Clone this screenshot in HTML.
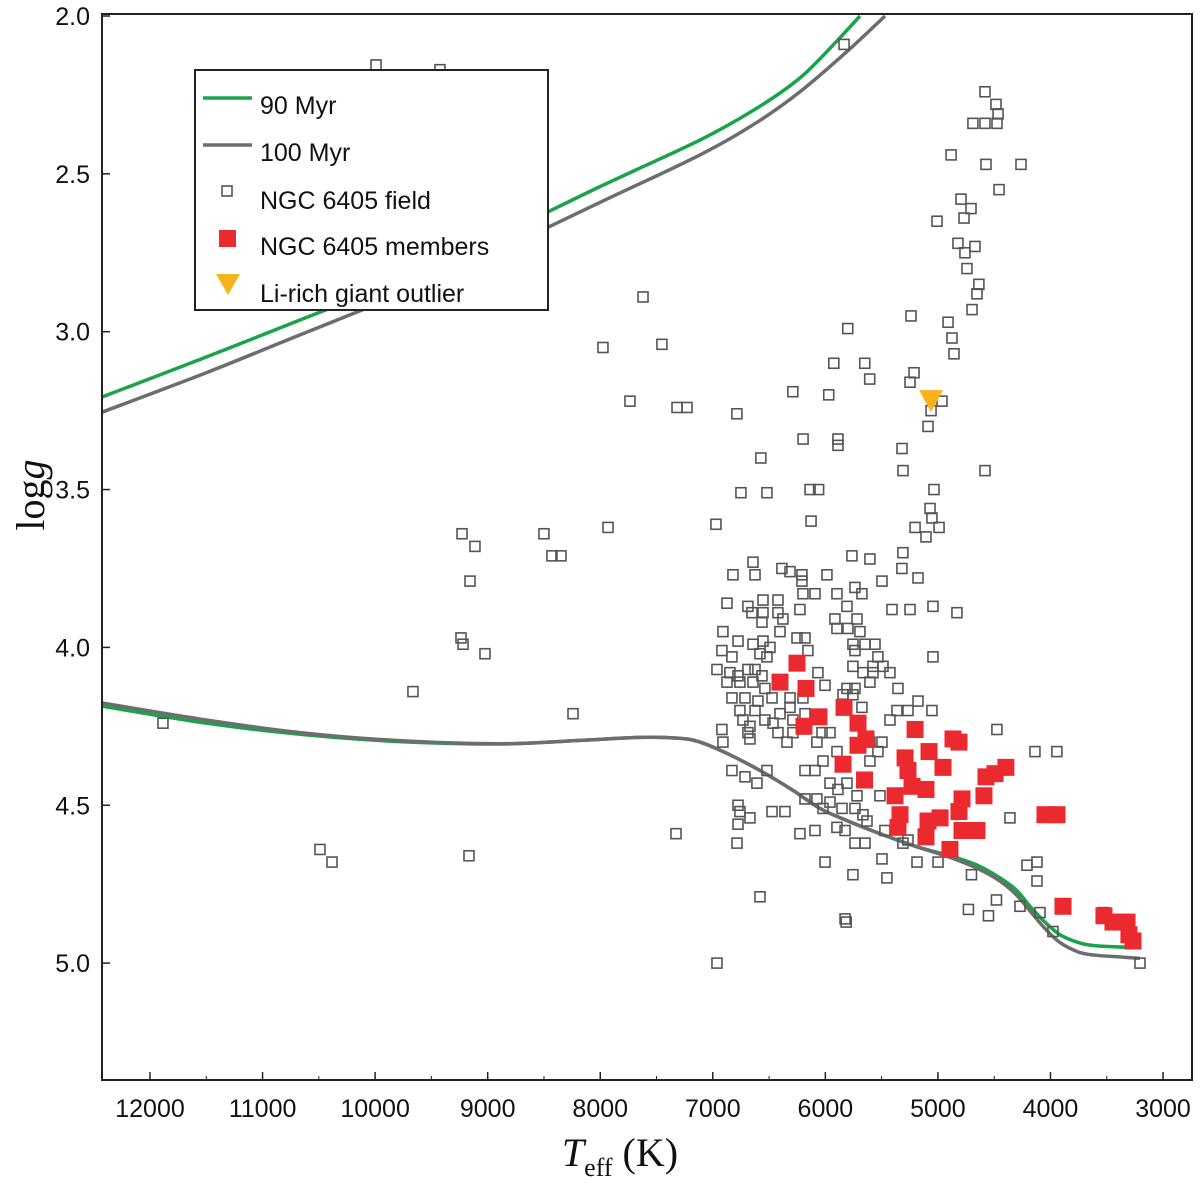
<!DOCTYPE html>
<html><head><meta charset="utf-8"><style>
html,body{margin:0;padding:0;background:#fff}
svg{display:block}
.sans{font-family:"Liberation Sans",sans-serif}
.serif{font-family:"Liberation Serif",serif}
</style></head><body>
<svg id="chart" width="1200" height="1184" viewBox="0 0 1200 1184"></svg>
<script>
const xTicks=[12000,11000,10000,9000,8000,7000,6000,5000,4000,3000];
const yTicks=[2.0,2.5,3.0,3.5,4.0,4.5,5.0];
const legendLabels=["90 Myr","100 Myr","NGC 6405 field","NGC 6405 members","Li-rich giant outlier"];
const iso90Upper=[[12426,3.207],[11500,3.08],[10667,2.963],[9800,2.84],[8891,2.694],[8000,2.54],[7114,2.393],[6600,2.29],[6225,2.196],[5900,2.08],[5692,2.0]];
const iso100Upper=[[12426,3.255],[11500,3.13],[10667,3.01],[9800,2.885],[8891,2.741],[8000,2.59],[7114,2.44],[6600,2.335],[6225,2.24],[5800,2.11],[5470,2.0]];
const iso90Lower=[[12426,4.186],[11500,4.24],[10667,4.275],[9800,4.298],[8891,4.306],[8200,4.295],[7647,4.285],[7300,4.288],[7114,4.30],[6850,4.34],[6581,4.39],[6300,4.45],[6048,4.51],[5800,4.55],[5515,4.59],[5200,4.63],[4893,4.66],[4650,4.69],[4449,4.73],[4300,4.77],[4182,4.82],[4050,4.87],[3915,4.91],[3750,4.935],[3600,4.945],[3293,4.95]];
const iso100Lower=[[12426,4.176],[11500,4.23],[10667,4.27],[9800,4.295],[8891,4.305],[8200,4.295],[7647,4.285],[7300,4.288],[7114,4.30],[6850,4.34],[6581,4.39],[6300,4.45],[6048,4.51],[5800,4.55],[5515,4.59],[5200,4.63],[4893,4.665],[4650,4.70],[4449,4.74],[4300,4.785],[4182,4.835],[4050,4.89],[3915,4.935],[3750,4.965],[3600,4.975],[3400,4.98],[3206,4.985]];
const fieldStars=[[9992,2.155],[9424,2.17],[11885,4.24],[9664,4.14],[10490,4.64],[10383,4.68],[9166,4.66],[9228,3.64],[9113,3.68],[9157,3.79],[9237,3.97],[9219,3.99],[9024,4.02],[8500,3.64],[8429,3.71],[8349,3.71],[8242,4.21],[7976,3.05],[7931,3.62],[7620,2.89],[7736,3.22],[7452,3.04],[7318,3.24],[7229,3.24],[7327,4.59],[6963,5.0],[6972,3.61],[6786,3.26],[6573,3.40],[6519,3.51],[6750,3.51],[6289,3.19],[5801,2.99],[5925,3.10],[5650,3.10],[5606,3.15],[5970,3.20],[5834,2.09],[5239,2.95],[5248,3.16],[5212,3.13],[5061,3.25],[5088,3.30],[4910,2.97],[4883,2.44],[5008,2.65],[4875,3.02],[4857,3.07],[4822,2.72],[4768,2.64],[4795,2.58],[4706,2.61],[4760,2.75],[4742,2.80],[4671,2.73],[4653,2.88],[4697,2.93],[4636,2.85],[4582,2.24],[4689,2.34],[4582,2.34],[4484,2.28],[4466,2.31],[4475,2.34],[4573,2.47],[4262,2.47],[4457,2.55],[4582,3.44],[4964,3.22],[5035,3.50],[5070,3.56],[5053,3.59],[4990,3.62],[5106,3.65],[5203,3.62],[5319,3.37],[5310,3.44],[6127,3.60],[6136,3.50],[6060,3.50],[6198,3.34],[5888,3.36],[5888,3.34],
[6643,3.73],[6821,3.77],[6625,3.77],[6386,3.75],[6314,3.76],[6208,3.77],[6208,3.79],[5986,3.77],[5764,3.71],[5604,3.72],[5311,3.70],[5320,3.75],[5177,3.78],[5497,3.79],[6199,3.83],[6092,3.83],[5897,3.83],[5737,3.81],[5675,3.83],[6874,3.86],[6688,3.87],[6554,3.85],[6421,3.85],[6226,3.88],[5808,3.87],[5408,3.88],[5248,3.88],[5044,3.87],[4831,3.89],[6652,3.89],[6554,3.89],[6421,3.89],[6563,3.92],[6377,3.91],[5915,3.91],[5719,3.91],[5897,3.94],[5799,3.94],[5693,3.95],[6910,3.95],[6403,3.95],[6776,3.98],[6643,3.99],[6554,3.98],[6492,4.00],[6252,3.97],[6181,3.97],[6155,4.01],[5755,3.99],[5648,3.99],[5559,3.99],[5737,4.01],[6919,4.01],[6830,4.03],[6581,4.02],[6519,4.03],[5044,4.03],[5533,4.03],[5577,4.06],[5488,4.06],[5755,4.06],[6963,4.07],[6848,4.08],[6776,4.09],[6688,4.07],[6625,4.07],[6563,4.09],[5426,4.08],[5666,4.08],[5577,4.08],[6066,4.08],[6874,4.11],[6759,4.11],[6643,4.11],[6537,4.13],[6003,4.12],[5808,4.13],[5737,4.13],[5604,4.11],[5355,4.13],[6830,4.16],[6714,4.16],[6599,4.17],[6474,4.16],[6314,4.16],[6199,4.16],[5843,4.15],[5755,4.15],[5675,4.19],[5177,4.17],[5843,4.18],[6759,4.20],[6625,4.20],[6403,4.21],[6314,4.19],[6465,4.24],[6288,4.23],[6181,4.21],[6732,4.23],[6670,4.25],[6537,4.23],[6421,4.27],[6288,4.27],[6919,4.26],[6910,4.30],[6688,4.27],[6670,4.29],[6341,4.30],[6075,4.30],[6030,4.27],[5959,4.27],[5426,4.23],[5364,4.20],[5266,4.20],[5053,4.20],[4476,4.26],[3943,4.33],[4138,4.33],[5497,4.30],[5604,4.30],[5604,4.36],[5533,4.33],[5897,4.33],[6021,4.36],[6830,4.39],[6714,4.41],[6608,4.43],[6519,4.39],[6181,4.39],[6092,4.39],[6181,4.48],[6075,4.48],[5959,4.43],[5888,4.45],[5808,4.43],[5719,4.47],[5959,4.49],[6021,4.51],[5852,4.51],[5737,4.51],[5666,4.53],[6776,4.50],[6759,4.52],[6474,4.52],[6359,4.52],[6670,4.54],[6776,4.56],[6226,4.59],[6092,4.58],[5897,4.57],[5825,4.58],[5630,4.55],[5515,4.47],[5471,4.58],[5311,4.62],[5266,4.61],[5737,4.62],[5648,4.62],[6785,4.62],[4360,4.54],[6003,4.68],[5497,4.67],[5186,4.68],[4999,4.68],[5755,4.72],[5453,4.73],[4702,4.72],[4209,4.69],[4120,4.68],[4120,4.74],[6581,4.79],[5825,4.86],[5815,4.87],[4729,4.83],[4551,4.85],[4480,4.80],[4271,4.82],[4093,4.84],[3978,4.90],[3533,4.84],[3205,5.00]];
const members=[[6403,4.11],[6252,4.05],[6172,4.13],[6190,4.25],[6057,4.22],[5834,4.19],[5710,4.24],[5710,4.31],[5639,4.29],[5843,4.37],[5652,4.42],[5203,4.26],[5079,4.33],[4866,4.29],[4813,4.30],[4955,4.38],[5292,4.35],[5266,4.39],[5381,4.47],[5230,4.44],[5106,4.45],[5337,4.53],[5355,4.57],[5088,4.55],[4981,4.54],[5106,4.60],[4893,4.64],[4786,4.48],[4813,4.52],[4786,4.58],[4653,4.58],[4591,4.47],[4573,4.41],[4493,4.40],[4396,4.38],[4049,4.53],[3942,4.53],[3889,4.82],[3525,4.85],[3445,4.87],[3320,4.87],[3303,4.91],[3267,4.93]];
const outlier=[[5061,3.22]];

const NS="http://www.w3.org/2000/svg";
const svg=document.getElementById('chart');
const L=102,R=1192,T=14,B=1080;
function xS(t){return 150+(12000-t)*0.11256;}
function yS(g){return 16+(g-2)*315.7;}
function mk(tag,attrs,parent){const e=document.createElementNS(NS,tag);for(const k in attrs)e.setAttribute(k,attrs[k]);(parent||svg).appendChild(e);return e;}

const defs=mk('defs',{});
const cp=mk('clipPath',{id:'clip'},defs);
mk('rect',{x:L,y:T,width:R-L,height:B-T},cp);
const plot=mk('g',{'clip-path':'url(#clip)'});



function smoothPath(pts){
  const p=pts.map(d=>[xS(d[0]),yS(d[1])]);
  let s='M'+p[0][0].toFixed(1)+','+p[0][1].toFixed(1);
  for(let i=0;i<p.length-1;i++){
    const p0=p[i-1]||p[i],p1=p[i],p2=p[i+1],p3=p[i+2]||p2;
    const c1=[p1[0]+(p2[0]-p0[0])/6,p1[1]+(p2[1]-p0[1])/6];
    const c2=[p2[0]-(p3[0]-p1[0])/6,p2[1]-(p3[1]-p1[1])/6];
    s+=' C'+c1.map(v=>v.toFixed(1)).join(',')+' '+c2.map(v=>v.toFixed(1)).join(',')+' '+p2[0].toFixed(1)+','+p2[1].toFixed(1);
  }
  return s;
}
function line(pts,color,name){
  const p=mk('path',{d:smoothPath(pts),fill:'none',stroke:color,'stroke-width':3.5,'stroke-linejoin':'round'},plot);
  
  
}
line(iso100Upper,'#6d6d6d','isochrone-100myr-upper');
line(iso90Upper,'#1aa34a','isochrone-90myr-upper');
line(iso90Lower,'#1aa34a','isochrone-90myr-lower');
line(iso100Lower,'#6d6d6d','isochrone-100myr-lower');

fieldStars.forEach(d=>{
  const r=mk('rect',{x:xS(d[0])-5,y:yS(d[1])-5,width:10,height:10,fill:'none',stroke:'#555','stroke-width':1.6},plot);
  
  
});
members.forEach(d=>{
  const r=mk('rect',{x:xS(d[0])-8.5,y:yS(d[1])-8.5,width:17,height:17,fill:'#ea2a2e'},plot);
  
  
});
outlier.forEach(d=>{
  const x=xS(d[0]),y=yS(d[1]);
  const p=mk('polygon',{points:`${x-12},${y-11} ${x+12},${y-11} ${x},${y+11}`,fill:'#f7b21c'},plot);
  
  
});

const frame=mk('rect',{x:L,y:T,width:R-L,height:B-T,fill:'none',stroke:'#222','stroke-width':2});



xTicks.forEach(t=>{
  const x=xS(t);
  mk('line',{x1:x,x2:x,y1:B,y2:B-8,stroke:'#222','stroke-width':1.5});
  const tx=mk('text',{x:x,y:B+37,'text-anchor':'middle','font-size':25,fill:'#111','class':'sans'});
  tx.textContent=t;
  
  
});
for(let t=12000;t>=2800;t-=500){const x=xS(t);if(x>L&&x<R)mk('line',{x1:x,x2:x,y1:B,y2:B-4,stroke:'#222','stroke-width':1});}
yTicks.forEach(g=>{
  const y=yS(g);
  mk('line',{x1:L,x2:L+8,y1:y,y2:y,stroke:'#222','stroke-width':1.5});
  const tx=mk('text',{x:90,y:y+9,'text-anchor':'end','font-size':25,fill:'#111','class':'sans'});
  tx.textContent=g.toFixed(1);
  
  
});

const yt=mk('text',{x:0,y:0,transform:'translate(44,495) rotate(-90)','text-anchor':'middle','font-size':40,fill:'#111','class':'serif'});
yt.innerHTML='log<tspan font-style="italic">g</tspan>';


const xt=mk('text',{x:620,y:1166,'text-anchor':'middle','font-size':40,fill:'#111','class':'serif'});
xt.innerHTML='<tspan font-style="italic">T</tspan><tspan font-size="26" dy="10">eff</tspan><tspan dy="-10"> (K)</tspan>';



const lg=mk('g',{});


mk('rect',{x:195,y:70,width:353,height:240,fill:'#fff',stroke:'#222','stroke-width':2},lg);
const ly=[106,153,201,247,294];
legendLabels.forEach((lab,i)=>{
  const y=ly[i];
  if(i<2){mk('line',{x1:203,x2:252,y1:y-8,y2:y-8,stroke:i==0?'#1aa34a':'#6d6d6d','stroke-width':3.5},lg);}
  else if(i==2){mk('rect',{x:222,y:y-15,width:10,height:10,fill:'none',stroke:'#555','stroke-width':1.6},lg);}
  else if(i==3){mk('rect',{x:219,y:y-17,width:17,height:17,fill:'#ea2a2e'},lg);}
  else {mk('polygon',{points:`216,${y-20} 240,${y-20} 228,${y+1}`,fill:'#f7b21c'},lg);}
  const tx=mk('text',{x:260,y:y+8,'font-size':25,fill:'#111','class':'sans'},lg);
  tx.textContent=lab;
  
  
});
</script>
</body></html>
